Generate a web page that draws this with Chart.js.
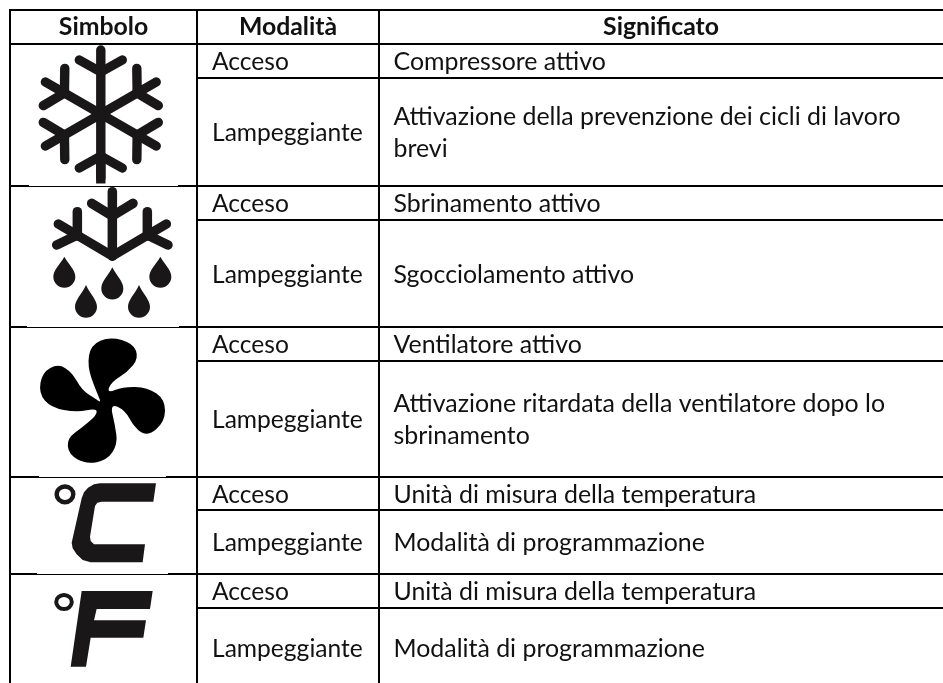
<!DOCTYPE html>
<html>
<head>
<meta charset="utf-8">
<title>Simboli display</title>
<script src="https://cdn.jsdelivr.net/npm/chart.js@4"></script>
<style>
    html, body { margin: 0; padding: 0; background: #fff; }
    #box { width: 943px; height: 683px; }
</style>
</head>
<body>
<div id="box"><canvas id="tabella"></canvas></div>
<script>
// testi della tabella
const headers = ['Simbolo', 'Modalità', 'Significato'];
const modes = ['Acceso', 'Lampeggiante', 'Acceso', 'Lampeggiante', 'Acceso', 'Lampeggiante', 'Acceso', 'Lampeggiante', 'Acceso', 'Lampeggiante'];
const meanings = [
    ['Compressore attivo'],
    ['Attivazione della prevenzione dei cicli di lavoro', 'brevi'],
    ['Sbrinamento attivo'],
    ['Sgocciolamento attivo'],
    ['Ventilatore attivo'],
    ['Attivazione ritardata della ventilatore dopo lo', 'sbrinamento'],
    ['Unità di misura della temperatura'],
    ['Modalità di programmazione'],
    ['Unità di misura della temperatura'],
    ['Modalità di programmazione']
];

// bordi di colonne e righe, sugli assi (l'ultima riga esce dalla foto)
const columnEdges = [10, 197, 379, 943];
const rowEdges = [10, 44, 78, 186, 220, 327, 361, 477, 510, 574, 608, 688];
// righe che chiudono un simbolo (indice in rowEdges), con il tratto coperto dall'immagine
const groupEnds = [3, 5, 7, 9];
const imageOverlap = [[29, 178], [27, 179], [39, 166], [37, 168]];

const flakeCenter = [100.8, 114];
const dripTrunk = [[337, 35, 337, 228], [337, 228, 175, 132], [337, 228, 499, 132], [232, 95, 232, 168], [442, 95, 442, 168],
    [170, 195, 232, 165], [504, 195, 442, 165], [275, 70, 337, 108], [399, 70, 337, 108]];
const drops = [[193, 230, 325], [337, 262, 360], [481, 230, 325], [258, 315, 415], [417, 315, 415]];
const fanOutline = [[305, 280], [287, 240], [262, 170], [272, 105], [330, 80], [400, 100], [416, 145], [382, 187], [335, 215], [320, 250],
    [370, 230], [442, 232], [495, 268], [495, 335], [442, 380], [403, 352], [375, 300], [330, 280],
    [345, 345], [353, 402], [322, 450], [258, 463], [206, 433], [201, 385], [250, 350], [290, 315],
    [290, 295], [230, 307], [153, 293], [116, 250], [127, 187], [175, 161], [217, 188], [245, 240], [285, 265]];
const celsiusOutline = [[468, 55], [460, 110], [305, 110], [292, 113], [285, 123], [270, 215], [272, 228], [282, 238], [435, 238], [428, 292],
    [272, 292], [248, 285], [230, 268], [218, 250], [215, 233], [245, 100], [252, 82], [264, 68], [282, 58], [300, 55]];
const fahrenheitOutline = [[245, 378], [458, 378], [450, 432], [290, 432], [282, 466], [438, 466], [430, 518], [272, 518], [258, 605], [212, 605]];

const ink = '#000000';
const textInk = '#111111';
const iconInk = '#1a1718';

function ruleDatasets() {
    const rules = [];
    const add = (x0, x1, y0, y1) => rules.push({
        data: [{x: x0, y: y0}, {x: x1, y: y1}],
        showLine: true, borderColor: ink, borderWidth: 2, pointRadius: 0, borderCapStyle: 'square'
    });
    columnEdges.slice(0, 3).forEach(x => add(x, x, rowEdges[0], rowEdges[rowEdges.length - 1]));
    rowEdges.slice(0, -1).forEach((y, i) => {
        const full = i < 2 || groupEnds.includes(i);
        add(full ? columnEdges[0] : columnEdges[1], columnEdges[3], y, y);
    });
    return rules;
}

const tablePlugin = {
    id: 'tablePlugin',
    afterDatasetsDraw(chart) {
        const ctx = chart.ctx;
        const sx = chart.scales.x, sy = chart.scales.y;
        const px = v => sx.getPixelForValue(v);
        const py = v => sy.getPixelForValue(v);

        ctx.save();
        // le immagini coprono parte del bordo
        ctx.fillStyle = '#fff';
        groupEnds.forEach((r, i) => {
            ctx.fillRect(px(imageOverlap[i][0]), py(rowEdges[r]) - 1, imageOverlap[i][1] - imageOverlap[i][0], 1);
        });

        ctx.fillStyle = textInk;
        ctx.textBaseline = 'alphabetic';

        // intestazione
        ctx.font = 'bold 24.8px Lato';
        ctx.textAlign = 'center';
        headers.forEach((h, i) => {
            ctx.fillText(h, px((columnEdges[i] + columnEdges[i + 1]) / 2), py(35));
        });

        // corpo
        ctx.textAlign = 'left';
        modes.forEach((m, i) => {
            const mid = (rowEdges[i + 1] + rowEdges[i + 2]) / 2;
            ctx.font = '24.6px Lato';
            ctx.fillText(m, px(columnEdges[1] + 15), py(mid + 9));
            ctx.font = '24.9px Lato';
            const lines = meanings[i];
            lines.forEach((t, j) => {
                ctx.fillText(t, px(columnEdges[2] + 14.5), py(mid + 9 + (j - (lines.length - 1) / 2) * 32));
            });
        });

        drawFlake(ctx, px, py);
        drawDrip(ctx, px, py);
        drawZoomed(ctx, fanOutline, 310, px, py, true, '#000');
        drawZoomed(ctx, celsiusOutline, 465, px, py, false, iconInk);
        drawZoomed(ctx, fahrenheitOutline, 465, px, py, false, iconInk);
        drawRing(ctx, px(65), py(465 + 88 / 3), 8.3, 7.9, 4.4);
        drawRing(ctx, px(64), py(465 + 411 / 3), 7.8, 6.9, 4);
        ctx.restore();
    }
};

function drawFlake(ctx, px, py) {
    const L = 64, a = 42, bu = 54, bv = 21.5;
    ctx.strokeStyle = iconInk;
    ctx.lineWidth = 9.4;
    ctx.lineCap = 'round';
    for (let k = 0; k < 6; k++) {
        const t = k * Math.PI / 3;
        const ux = Math.sin(t), uy = -Math.cos(t), vx = Math.cos(t), vy = Math.sin(t);
        const at = (u, v) => [px(flakeCenter[0] + u * ux + v * vx), py(flakeCenter[1] + u * uy + v * vy)];
        const seg = (p, q) => { ctx.beginPath(); ctx.moveTo(...p); ctx.lineTo(...q); ctx.stroke(); };
        seg(at(0, 0), at(L, 0));
        seg(at(a, 0), at(bu, bv));
        seg(at(a, 0), at(bu, -bv));
    }
    // il gambo in basso e' tagliato dritto dall'immagine
    ctx.lineCap = 'butt';
    ctx.beginPath();
    ctx.moveTo(px(flakeCenter[0]), py(flakeCenter[1] + 50));
    ctx.lineTo(px(flakeCenter[0]), py(183.5));
    ctx.stroke();
}

function drawDrip(ctx, px, py) {
    const zx = v => px(v / 3), zy = v => py(180 + v / 3);
    ctx.strokeStyle = iconInk;
    ctx.lineWidth = 9.5;
    ctx.lineCap = 'round';
    dripTrunk.forEach(s => {
        ctx.beginPath();
        ctx.moveTo(zx(s[0]), zy(s[1]));
        ctx.lineTo(zx(s[2]), zy(s[3]));
        ctx.stroke();
    });
    ctx.fillStyle = iconInk;
    drops.forEach(d => {
        const r = 11;
        const cy = zy(d[2]) - r - 0.5;
        const x = zx(d[0]);
        ctx.beginPath();
        ctx.moveTo(x, zy(d[1]));
        ctx.bezierCurveTo(x + 4, cy - 13, x + r, cy - 7, x + r, cy);
        ctx.arc(x, cy, r, 0, Math.PI);
        ctx.bezierCurveTo(x - r, cy - 7, x - 4, cy - 13, x, zy(d[1]));
        ctx.fill();
    });
}

function drawZoomed(ctx, pts, yOff, px, py, smooth, color) {
    const P = pts.map(p => [px(p[0] / 3), py(yOff + p[1] / 3)]);
    ctx.fillStyle = color;
    ctx.beginPath();
    if (smooth) {
        const n = P.length;
        ctx.moveTo((P[n - 1][0] + P[0][0]) / 2, (P[n - 1][1] + P[0][1]) / 2);
        P.forEach((p, i) => {
            const q = P[(i + 1) % n];
            ctx.quadraticCurveTo(p[0], p[1], (p[0] + q[0]) / 2, (p[1] + q[1]) / 2);
        });
    } else {
        P.forEach((p, i) => i ? ctx.lineTo(p[0], p[1]) : ctx.moveTo(p[0], p[1]));
    }
    ctx.closePath();
    ctx.fill();
}

function drawRing(ctx, x, y, rx, ry, w) {
    ctx.strokeStyle = iconInk;
    ctx.lineWidth = w;
    ctx.beginPath();
    ctx.ellipse(x, y, rx, ry, 0, 0, Math.PI * 2);
    ctx.stroke();
}

new Chart(document.getElementById('tabella').getContext('2d'), {
    type: 'scatter',
    data: { datasets: ruleDatasets() },
    options: {
        responsive: true,
        maintainAspectRatio: false,
        animation: false,
        layout: { padding: 0 },
        plugins: { legend: { display: false }, tooltip: { enabled: false } },
        scales: {
            x: { type: 'linear', min: 0, max: 943, display: false },
            y: { type: 'linear', min: 0, max: 683, reverse: true, display: false }
        }
    },
    plugins: [tablePlugin]
});
</script>
</body>
</html>
